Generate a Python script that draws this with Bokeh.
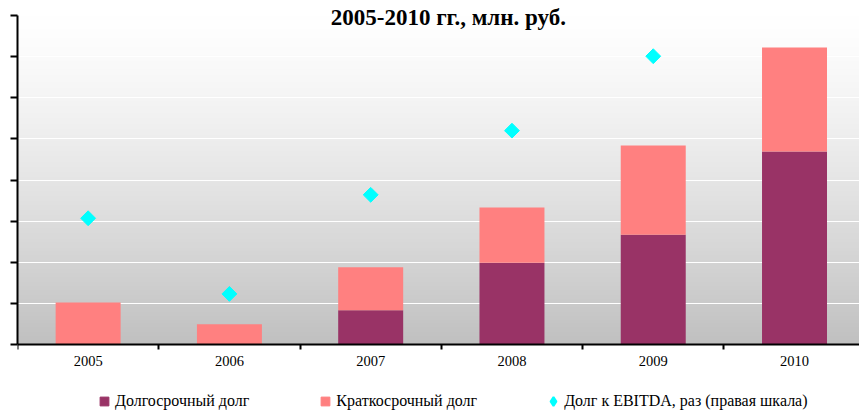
import numpy as np
from bokeh.plotting import figure
from bokeh.models import (ColumnDataSource, Range1d, FixedTicker, Legend,
                          LegendItem, Label)
from bokeh.embed import file_html
from bokeh.resources import INLINE

# ---- data ----
years = ["2005", "2006", "2007", "2008", "2009", "2010"]
long_term = [0, 0, 830, 1990, 2670, 4690]          # Долгосрочный долг
short_term = [1020, 490, 1050, 1340, 2170, 2530]   # Краткосрочный долг
debt_ebitda = [3.07, 1.23, 3.64, 5.20, 7.01, float("nan")]  # right scale
y_ticks = [0, 1000, 2000, 3000, 4000, 5000, 6000, 7000, 8000]
ratio_max = 8
series_names = ["Долгосрочный долг", "Краткосрочный долг",
                "Долг к EBITDA, раз (правая шкала)"]
title_text = "2005-2010 гг., млн. руб."

C_LONG = "#993366"
C_SHORT = "#FF8080"
C_RATIO = "#00FFFF"
FONT = "Liberation Serif"

# layout (pixels): plot area from 15 to 344 vertically in a 410 px canvas
H, TOP, BOT = 410, 15, 344
px = y_ticks[-1] / (BOT - TOP)
y_lo = -(H - BOT) * px
y_hi = y_ticks[-1] + TOP * px
rpx = ratio_max / (BOT - TOP)

x = list(range(len(years)))
src = ColumnDataSource(dict(x=x, long=long_term, short=short_term,
                            ratio=debt_ebitda))

p = figure(width=859, height=H,
           x_range=Range1d(-0.5, 5.46), y_range=Range1d(y_lo, y_hi),
           output_backend="svg", toolbar_location=None,
           min_border_left=17, min_border_right=0,
           min_border_top=0, min_border_bottom=0)
p.extra_y_ranges = {"ratio": Range1d(-(H - BOT) * rpx, ratio_max + TOP * rpx)}
p.outline_line_color = None
p.background_fill_color = "white"
p.border_fill_color = "white"

# vertical gradient background of the plot area
N = 256
img = np.empty((N, 1), dtype=np.uint32)
view = img.view(dtype=np.uint8).reshape((N, 1, 4))
t_top = 1.0 - (np.arange(N) + 0.5) / N
g = (255 - 63 * t_top ** 1.3).astype(np.uint8)
view[:, 0, 0] = g
view[:, 0, 1] = g
view[:, 0, 2] = g
view[:, 0, 3] = 255
p.image_rgba(image=[img], x=-0.5, y=0, dw=6.0, dh=y_ticks[-1], level="image")

# stacked bars
p.vbar_stack(["long", "short"], x="x", width=0.46, source=src,
             fill_color=[C_LONG, C_SHORT], line_color=None)

# ratio markers (right scale)
p.scatter("x", "ratio", source=src, marker="square",
          angle=np.pi / 4, size=10.5, fill_color=C_RATIO,
          line_color=C_RATIO, y_range_name="ratio")

# legend proxies
prox_long = p.scatter(x=[np.nan], y=[np.nan], marker="square",
                      fill_color=C_LONG, line_color=C_LONG)
prox_short = p.scatter(x=[np.nan], y=[np.nan], marker="square",
                       fill_color=C_SHORT, line_color=C_SHORT)
prox_ratio = p.scatter(x=[np.nan], y=[np.nan], marker="diamond",
                       fill_color=C_RATIO, line_color=C_RATIO, line_width=2)

legend = Legend(items=[LegendItem(label=series_names[0], renderers=[prox_long]),
                       LegendItem(label=series_names[1], renderers=[prox_short]),
                       LegendItem(label=series_names[2], renderers=[prox_ratio])],
                orientation="horizontal", location=(76, -2),
                glyph_width=22, glyph_height=22, label_standoff=0,
                spacing=65, padding=0, margin=0,
                border_line_color=None, background_fill_alpha=0,
                label_text_font=FONT, label_text_font_size="16px",
                label_text_color="black")
p.add_layout(legend)

# grid
p.xgrid.visible = False
p.ygrid.ticker = FixedTicker(ticks=y_ticks)
p.ygrid.grid_line_color = "white"
p.ygrid.grid_line_width = 1

# left axis (its labels are cut off in the reference)
ya = p.yaxis[0]
ya.ticker = FixedTicker(ticks=y_ticks)
ya.bounds = (y_ticks[0], y_ticks[-1])
ya.major_label_overrides = {t: "" for t in y_ticks}
ya.axis_line_color = "black"
ya.axis_line_width = 2
ya.major_tick_line_color = "black"
ya.major_tick_line_width = 2
ya.major_tick_out = 7
ya.major_tick_in = 0
ya.minor_tick_line_color = None
ya.major_label_standoff = 0

# bottom axis at value 0: labels at centres, ticks at category boundaries
xa = p.xaxis[0]
xa.fixed_location = 0
xa.ticker = FixedTicker(ticks=x, minor_ticks=[i - 0.5 for i in range(len(years) + 1)])
xa.major_label_overrides = {i: yv for i, yv in zip(x, years)}
xa.axis_line_color = "black"
xa.axis_line_width = 2
xa.major_tick_line_color = None
xa.minor_tick_line_color = "black"
xa.minor_tick_line_width = 2
xa.minor_tick_out = 5
xa.minor_tick_in = 0
xa.major_label_text_font = FONT
xa.major_label_text_font_size = "14.5px"
xa.major_label_text_color = "black"
xa.major_label_standoff = 5

# title (only its second line is visible in the reference)
p.add_layout(Label(x=2.5, y=y_ticks[-1], x_offset=7, y_offset=-2,
                   text=title_text, text_align="center",
                   text_baseline="alphabetic", text_font=FONT,
                   text_font_style="bold", text_font_size="23px",
                   text_color="black"))

open("out.html", "w").write(file_html(p, INLINE))
